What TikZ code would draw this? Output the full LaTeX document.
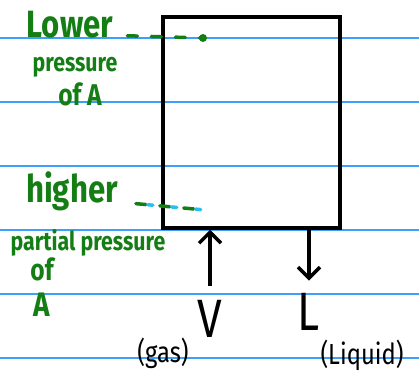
\documentclass[tikz,border=0pt]{standalone}
\usepackage{fontspec}
\setmainfont{Fira Sans}[FakeStretch=0.82]
\usetikzlibrary{positioning,arrows.meta}
\definecolor{ruleblue}{RGB}{60,160,250}
\definecolor{penGreen}{RGB}{20,125,20}
\definecolor{penCyan}{RGB}{40,190,240}

\begin{document}
\begin{tikzpicture}[
	x=1pt, y=-1pt,
	note/.style={text=penGreen, inner sep=0pt, anchor=base, font=\bfseries\fontsize{30}{32}\selectfont},
	bignote/.style={note, font=\bfseries\fontsize{38}{40}\selectfont},
	smallnote/.style={note, font=\bfseries\fontsize{26}{28}\selectfont},
	flow/.style={text=black, inner sep=0pt, anchor=base, font=\fontsize{54}{56}\selectfont},
	phase/.style={text=black, inner sep=0pt, anchor=base, font=\fontsize{29}{31}\selectfont},
	tank/.style={rectangle, draw, line width=3.5pt, minimum width=177pt, minimum height=211pt},
	line/.style={draw, line width=3.5pt, -{Straight Barb[length=11pt,width=22pt,line width=3.5pt]}},
	guide/.style={draw=penGreen, line width=3.5pt, line cap=round, dash pattern=on 10pt off 14pt},
	]
	\useasboundingbox (0,0) rectangle (419,387);
	% ruled paper
	\foreach \y in {38,102,...,358}
		\draw[ruleblue, line width=1.4pt] (0,\y) -- (419,\y);

	\node[tank] (tank) at (251.5,122.5) {};

	% green notes
	\node[bignote] (lower) at (70,38) {Lower};
	\node[smallnote] (press) at (75,72) {pressure};
	\node[note] (ofA) at (80,106) {of A};
	\node[bignote] (high) at (72,202) {higher};
	\node[smallnote] (partial) at (88,250) {partial pressure};
	\node[note] (of) at (42,280) {of};
	\node[note, font=\bfseries\fontsize{34}{36}\selectfont] (A) at (42,316) {A};
	\coordinate (lowdot) at (203,38);
	\coordinate (highend) at (205,210);

	% streams
	\node[flow] (vgas) at (210,337) {V};
	\node[flow] (lliq) at (309,330) {L};
	\node[phase] (gas) at (163,362) {(gas)};
	\node[phase] (liq) at (362,364) {(Liquid)};

	%arrows and guide lines
	\path[line, shorten <=14pt] (vgas.north) -- (vgas.north |- tank.south);
	\path[line, shorten >=12pt] (tank.south -| lliq.north) -- (lliq.north);
	\path[guide, shorten <=14pt] (lower.mid east) -- (lowdot);
	\fill[penGreen] (lowdot) circle (4pt);
	\path[guide, shorten <=18pt] (high.base east) -- (highend);
	\path[guide, draw=penCyan, dash pattern=on 5pt off 19pt, dash phase=-12pt, shorten <=18pt] (high.base east) -- (highend);
\end{tikzpicture}
\end{document}
